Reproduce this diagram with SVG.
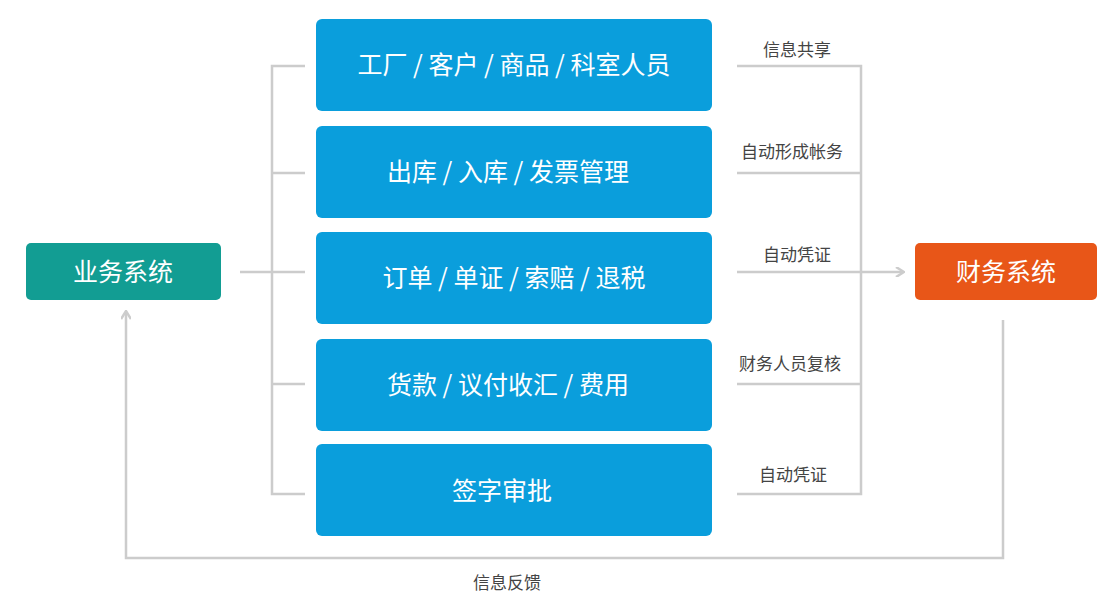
<svg xmlns="http://www.w3.org/2000/svg" width="1119" height="612" viewBox="0 0 1119 612">
<style>
.b{fill:#0a9edc}
.bt{font-family:"Noto Sans CJK SC",sans-serif;font-size:25px;fill:#fff;text-anchor:middle}
.lt{font-family:"Noto Sans CJK SC",sans-serif;font-size:17px;fill:#444;text-anchor:middle}
.c{stroke:#cccccc;stroke-width:2.5;fill:none}
</style>
<defs><marker id="a" markerWidth="10" markerHeight="10" refX="8" refY="5" orient="auto" markerUnits="userSpaceOnUse"><path d="M1,0 L9,5 L1,10" fill="none" stroke="#ccc" stroke-width="2.5"/></marker></defs>
<rect width="1119" height="612" fill="#fff"/>
<g id="connectors">
<path class="c" d="M305,66 H272 V494 H305 M272,173 H305 M240,272 H305 M272,384 H305"/>
<path class="c" d="M737,66 H861 V494 H737 M737,173 H861 M737,384 H861"/>
<path class="c" d="M737,272 H903" marker-end="url(#a)"/>
<path class="c" d="M1003,320 V558 H126 V312" marker-end="url(#a)"/>
<text class="lt" x="797" y="56">信息共享</text>
<text class="lt" x="792" y="158">自动形成帐务</text>
<text class="lt" x="797" y="261">自动凭证</text>
<text class="lt" x="790" y="370">财务人员复核</text>
<text class="lt" x="793" y="481">自动凭证</text>
<text class="lt" x="507" y="589">信息反馈</text>
</g>
<g id="biz"><rect x="26" y="243" width="195" height="57" rx="5" fill="#129d93"/><text class="bt" x="123" y="281">业务系统</text></g>
<g id="fin"><rect x="915" y="243" width="182" height="57" rx="5" fill="#e85618"/><text class="bt" x="1006" y="281">财务系统</text></g>
<g id="n1"><rect class="b" x="316" y="19" width="396" height="92" rx="6"/><text class="bt" x="514" y="74">工厂 / 客户 / 商品 / 科室人员</text></g>
<g id="n2"><rect class="b" x="316" y="126" width="396" height="92" rx="6"/><text class="bt" x="508" y="181">出库 / 入库 / 发票管理</text></g>
<g id="n3"><rect class="b" x="316" y="232" width="396" height="92" rx="6"/><text class="bt" x="514" y="287">订单 / 单证 / 索赔 / 退税</text></g>
<g id="n4"><rect class="b" x="316" y="339" width="396" height="92" rx="6"/><text class="bt" x="508" y="394">货款 / 议付收汇 / 费用</text></g>
<g id="n5"><rect class="b" x="316" y="444" width="396" height="92" rx="6"/><text class="bt" x="502" y="500">签字审批</text></g>
</svg>
